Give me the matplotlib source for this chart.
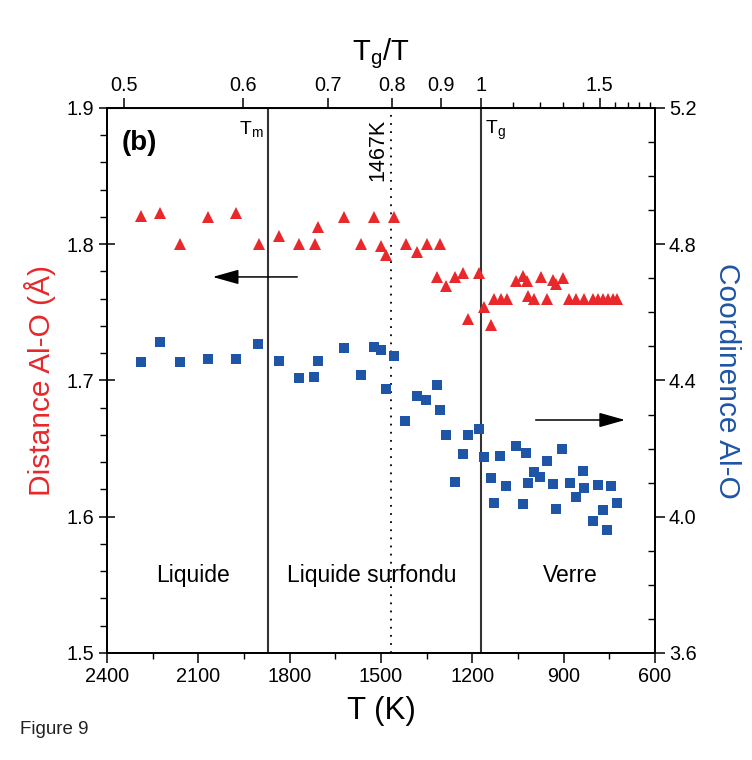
import matplotlib
matplotlib.use("Agg")
import matplotlib.pyplot as plt
from matplotlib.ticker import MultipleLocator, FixedLocator, FormatStrFormatter

plt.rcParams['font.family'] = ['Liberation Sans', 'DejaVu Sans']

# ---- data ----
T_dist = [2289, 2227, 2160, 2068, 1976, 1902, 1835, 1768, 1718, 1706, 1620, 1567, 1524,
          1500, 1485, 1458, 1419, 1383, 1350, 1317, 1305, 1285, 1256, 1230, 1214, 1179,
          1162, 1140, 1129, 1107, 1086, 1056, 1033, 1021, 1018, 997, 975, 954, 936, 925,
          903, 881, 860, 833, 802, 786, 770, 753, 739, 724]
dist_AlO = [1.821, 1.823, 1.800, 1.820, 1.823, 1.800, 1.806, 1.800, 1.800, 1.813, 1.820,
            1.800, 1.820, 1.799, 1.792, 1.820, 1.800, 1.794, 1.800, 1.776, 1.800, 1.769,
            1.776, 1.779, 1.745, 1.779, 1.754, 1.741, 1.760, 1.760, 1.760, 1.773, 1.777,
            1.773, 1.762, 1.760, 1.776, 1.760, 1.774, 1.771, 1.775, 1.760, 1.760, 1.760,
            1.760, 1.760, 1.760, 1.760, 1.760, 1.760]

T_coord = [2289, 2227, 2160, 2067, 1976, 1903, 1836, 1769, 1719, 1707, 1620, 1567, 1524,
           1500, 1485, 1458, 1421, 1383, 1351, 1317, 1305, 1285, 1256, 1232, 1213, 1179,
           1162, 1140, 1128, 1108, 1089, 1057, 1033, 1024, 1018, 998, 977, 954, 936, 925,
           905, 880, 860, 835, 833, 803, 788, 771, 759, 745, 726]
coord_AlO = [4.453, 4.512, 4.453, 4.462, 4.462, 4.507, 4.458, 4.406, 4.409, 4.458, 4.496,
             4.415, 4.499, 4.490, 4.376, 4.473, 4.281, 4.355, 4.342, 4.387, 4.314, 4.239,
             4.103, 4.183, 4.239, 4.258, 4.175, 4.115, 4.040, 4.178, 4.089, 4.207, 4.037,
             4.186, 4.099, 4.131, 4.117, 4.165, 4.097, 4.023, 4.198, 4.099, 4.058, 4.134,
             4.084, 3.988, 4.094, 4.021, 3.960, 4.089, 4.041]

Tg = 1172
Tm = 1870
T_cross = 1467
top_major = [0.5, 0.6, 0.7, 0.8, 0.9, 1, 1.5]
top_labels = ['0.5', '0.6', '0.7', '0.8', '0.9', '1', '1.5']
top_minor = [1.1, 1.2, 1.3, 1.4, 1.6, 1.7, 1.8, 1.9]
regions = ['Liquide', 'Liquide surfondu', 'Verre']
region_T = [2117, 1529, 879]

RED = '#E8282B'
BLUE = '#1F55A6'

fig = plt.figure(figsize=(7.52, 7.60), dpi=100)
ax = fig.add_axes([0.1423, 0.1408, 0.871 - 0.1423, 0.8579 - 0.1408])

ax.plot(T_dist, dist_AlO, linestyle='none', marker='^', color=RED, markersize=9,
        markeredgewidth=0, zorder=3)
ax.set_xlim(2400, 600)
ax.set_ylim(1.5, 1.9)

ax2 = ax.twinx()
ax2.plot(T_coord, coord_AlO, linestyle='none', marker='s', color=BLUE, markersize=6.8,
         markeredgewidth=0, zorder=3)
ax2.set_ylim(3.6, 5.2)
ax2.set_xlim(2400, 600)

# vertical lines
ax.axvline(Tm, color='#333333', lw=1.5, zorder=1)
ax.axvline(Tg, color='#333333', lw=1.5, zorder=1)
ax.axvline(T_cross, color='black', lw=1.3, linestyle=(0, (1, 3.5)), zorder=1)

# ticks
ax.xaxis.set_major_locator(MultipleLocator(300))
ax.xaxis.set_minor_locator(MultipleLocator(150))
ax.yaxis.set_major_locator(MultipleLocator(0.1))
ax.yaxis.set_minor_locator(MultipleLocator(0.02))
ax.yaxis.set_major_formatter(FormatStrFormatter('%.1f'))
ax.tick_params(axis='x', which='major', direction='out', length=7, width=1.1, labelsize=14.3, pad=3)
ax.tick_params(axis='x', which='minor', direction='out', length=4, width=1.0)
ax.tick_params(axis='y', which='major', direction='inout', length=12, width=1.1, labelsize=14.3, pad=3)
ax.tick_params(axis='y', which='minor', direction='out', length=5, width=1.0)

ax2.yaxis.set_major_locator(MultipleLocator(0.4))
ax2.yaxis.set_minor_locator(MultipleLocator(0.1))
ax2.yaxis.set_major_formatter(FormatStrFormatter('%.1f'))
ax2.tick_params(axis='y', which='major', direction='out', length=7, width=1.1, labelsize=14.3, pad=3)
ax2.tick_params(axis='y', which='minor', direction='in', length=5, width=1.0)

for a in (ax, ax2):
    for s in a.spines.values():
        s.set_linewidth(1.3)

# top axis Tg/T
top = ax.secondary_xaxis('top', functions=(lambda t: Tg / t, lambda r: Tg / r))
top.xaxis.set_major_locator(FixedLocator(top_major))
top.set_xticklabels(top_labels)
top.xaxis.set_minor_locator(FixedLocator(top_minor))
top.tick_params(axis='x', which='major', direction='out', length=7, width=1.1, labelsize=14.3, pad=2)
top.tick_params(axis='x', which='minor', direction='out', length=4, width=1.0)
top.set_xlabel(r'T$_{\mathregular{g}}$/T', fontsize=21, labelpad=12)

ax.set_xlabel('T (K)', fontsize=22.5, labelpad=7)
ax.set_ylabel('Distance Al-O (Å)', fontsize=21.5, color=RED, labelpad=8)
ax2.set_ylabel('Coordinence Al-O', fontsize=21.5, color=BLUE, rotation=270, labelpad=32)

# annotations
ax.text(0.027, 0.935, '(b)', transform=ax.transAxes, fontsize=20, fontweight='bold',
        ha='left', va='center')
ax.text(Tm + 15, 1.884, r'T$_{\mathregular{m}}$', fontsize=14, ha='right', va='center')
ax.text(Tg - 15, 1.884, r'T$_{\mathregular{g}}$', fontsize=14, ha='left', va='center')
ax.text(T_cross + 10, 1.9 - 0.008, '1467K', fontsize=15.5, rotation=90, ha='right', va='top')

for name, t in zip(regions, region_T):
    ax.text(t, 1.557, name, fontsize=16.5, ha='center', va='center')

ax.annotate('', xy=(2062, 1.776), xytext=(1766, 1.776),
            arrowprops=dict(arrowstyle='-|>,head_length=1.6,head_width=0.45', color='black', lw=1.1))
ax.annotate('', xy=(689, 1.671), xytext=(1001, 1.671),
            arrowprops=dict(arrowstyle='-|>,head_length=1.6,head_width=0.45', color='black', lw=1.1))

fig.text(0.027, 0.04, 'Figure 9', fontsize=13.5, ha='left', va='center', color='#222222')

fig.savefig('out.png', dpi=100)
